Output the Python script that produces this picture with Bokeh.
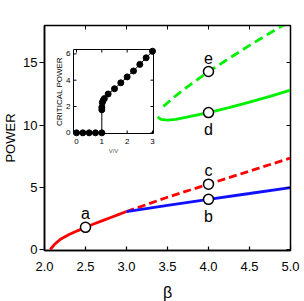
from math import pi
from bokeh.plotting import figure
from bokeh.models import Range1d, LinearAxis, FixedTicker, PrintfTickFormatter, ColumnDataSource
from bokeh.embed import file_html
from bokeh.resources import INLINE
from bokeh.core.properties import value

# ---------------- data ----------------
red_beta = [2.07, 2.12, 2.2, 2.3, 2.4, 2.5, 2.6, 2.7, 2.8, 2.9, 3.0]
red_power = [0.0, 0.4, 0.85, 1.2, 1.5, 1.78, 2.05, 2.3, 2.55, 2.8, 3.05]

red_dash_beta = [3.0, 3.5, 4.0, 4.5, 5.0]
red_dash_power = [3.05, 4.2, 5.25, 6.3, 7.35]

blue_beta = [3.0, 3.5, 4.0, 4.5, 5.0]
blue_power = [3.05, 3.55, 4.03, 4.5, 4.98]

green_beta = [3.38, 3.42, 3.5, 3.6, 3.75, 4.0, 4.25, 4.5, 4.75, 5.0]
green_power = [10.65, 10.45, 10.4, 10.45, 10.65, 11.0, 11.4, 11.85, 12.3, 12.8]

green_dash_beta = [3.45, 3.6, 3.8, 4.0, 4.25, 4.5, 4.75, 4.93]
green_dash_power = [11.5, 12.35, 13.35, 14.3, 15.35, 16.4, 17.4, 18.1]

point_names = ["a", "b", "c", "d", "e"]
point_beta = [2.5, 4.0, 4.0, 4.0, 4.0]
point_power = [1.78, 4.03, 5.25, 11.0, 14.3]
point_label_side = [-1, 1, -1, 1, -1]   # -1 above, +1 below

x_ticks = [2.0, 2.5, 3.0, 3.5, 4.0, 4.5, 5.0]
y_ticks = [0, 5, 10, 15]

# inset: critical power vs V/V
inset_v = [0, 0.25, 0.5, 0.75, 1.0, 1.0, 1.0, 1.02, 1.05, 1.1, 1.25, 1.5, 1.75, 2.0, 2.25, 2.5, 2.75, 3.0]
inset_p = [0, 0, 0, 0, 0, 1.75, 1.95, 2.3, 2.45, 2.6, 2.95, 3.35, 3.8, 4.25, 4.7, 5.2, 5.7, 6.2]
inset_x_ticks = [0, 1, 2, 3]
inset_y_ticks = [0, 2, 4, 6]

FONT = "Liberation Sans"

# ---------------- main figure ----------------
BL, BR, BT, BB = 37, 12, 25, 49
FW, FH = 246, 225
x0, x1 = 2.0, 5.0
y0, y1 = -0.08, 18.0

p = figure(frame_width=FW, frame_height=FH, output_backend="svg", toolbar_location=None,
           x_range=Range1d(x0, x1), y_range=Range1d(y0, y1),
           min_border_left=BL, min_border_right=BR, min_border_top=BT, min_border_bottom=BB)
p.background_fill_color = "white"
p.border_fill_color = "white"
p.grid.visible = False
p.outline_line_color = "black"
p.outline_line_width = 1.5

xa = p.xaxis[0]
xa.ticker = FixedTicker(ticks=x_ticks)
xa.formatter = PrintfTickFormatter(format="%.1f")
xa.axis_label = "β"
ya = p.yaxis[0]
ya.ticker = FixedTicker(ticks=y_ticks)
ya.axis_label = "POWER"
for ax in (xa, ya):
    ax.axis_line_color = "black"
    ax.axis_line_width = 1.5
    ax.major_tick_line_color = "black"
    ax.major_tick_line_width = 1.2
    ax.minor_tick_line_color = None
    ax.major_label_text_font = FONT
    ax.major_label_text_font_size = "13px"
    ax.major_label_text_color = "black"
    ax.axis_label_text_font = FONT
    ax.axis_label_text_font_style = "normal"
    ax.axis_label_text_color = "black"
xa.major_tick_in = 4
xa.major_tick_out = 0
xa.major_label_standoff = 11
xa.axis_label_text_font_size = "16px"
xa.axis_label_standoff = 10
ya.major_tick_in = 0
ya.major_tick_out = 5
ya.major_label_standoff = 2
ya.axis_label_text_font_size = "13px"
ya.axis_label_standoff = 2

top_ax = LinearAxis(ticker=FixedTicker(ticks=x_ticks), major_label_text_font_size="1px",
                    major_label_text_color=None,
                    major_tick_in=4, major_tick_out=0, minor_tick_line_color=None,
                    axis_line_color="black", major_tick_line_color="black",
                    major_label_standoff=0)
right_ax = LinearAxis(ticker=FixedTicker(ticks=y_ticks), major_label_text_font_size="1px",
                      major_label_text_color=None,
                      major_tick_in=4, major_tick_out=0, minor_tick_line_color=None,
                      axis_line_color="black", major_tick_line_color="black",
                      major_label_standoff=0)
p.add_layout(top_ax, "above")
p.add_layout(right_ax, "right")

# curves
p.line(red_beta, red_power, line_color="#ff0000", line_width=2.8)
p.line(red_dash_beta, red_dash_power, line_color="#ff0000", line_width=2.8, line_dash="8 4")
p.line(blue_beta, blue_power, line_color="#1010ff", line_width=2.8)
p.line(green_beta, green_power, line_color="#00f000", line_width=2.8)
p.line(green_dash_beta, green_dash_power, line_color="#00f000", line_width=2.8, line_dash="9 5")

# labelled points
pts = ColumnDataSource(dict(x=point_beta, y=point_power, name=point_names,
                            off=[s * (17 if s > 0 else 14) for s in point_label_side]))
p.scatter("x", "y", source=pts, marker="circle", size=10, fill_color="white",
          line_color="black", line_width=1.5)
p.text("x", "y", text="name", source=pts, y_offset="off", text_align="center",
       text_baseline="middle", text_font=value(FONT), text_font_size="16px", text_color="black")

# ---------------- inset ----------------
# inset box position in pixels relative to main frame (left, right, top, bottom)
IL, IR, IT, IB = 29, 109, 24, 108
ix0, ix1 = -0.118, 3.04
iy0, iy1 = -0.05, 6.33
xt = Range1d(x0 + IL / FW * (x1 - x0), x0 + IR / FW * (x1 - x0))
yt = Range1d(y1 - IB / FH * (y1 - y0), y1 - IT / FH * (y1 - y0))
sub = p.subplot(x_source=Range1d(ix0, ix1), y_source=Range1d(iy0, iy1), x_target=xt, y_target=yt)

sub.quad(left=[ix0], right=[ix1], bottom=[iy0], top=[iy1], fill_color="white",
         line_color="black", line_width=1)
dx_px = (ix1 - ix0) / (IR - IL)
dy_px = (iy1 - iy0) / (IB - IT)
sub.segment(x0=inset_x_ticks, y0=[iy0] * len(inset_x_ticks), x1=inset_x_ticks,
            y1=[iy0 + 3 * dy_px] * len(inset_x_ticks), line_color="black", line_width=1)
sub.segment(x0=inset_x_ticks, y0=[iy1] * len(inset_x_ticks), x1=inset_x_ticks,
            y1=[iy1 - 3 * dy_px] * len(inset_x_ticks), line_color="black", line_width=1)
sub.segment(x0=[ix0] * len(inset_y_ticks), y0=inset_y_ticks, x1=[ix0 + 3 * dx_px] * len(inset_y_ticks),
            y1=inset_y_ticks, line_color="black", line_width=1)
sub.segment(x0=[ix1] * len(inset_y_ticks), y0=inset_y_ticks, x1=[ix1 - 3 * dx_px] * len(inset_y_ticks),
            y1=inset_y_ticks, line_color="black", line_width=1)
sub.text(x=inset_x_ticks, y=[iy0] * len(inset_x_ticks), text=[str(t) for t in inset_x_ticks],
         y_offset=5, text_align="center", text_baseline="top", text_font=value(FONT),
         text_font_size="8px", text_color="black")
sub.text(x=[ix0] * len(inset_y_ticks), y=inset_y_ticks, text=[str(t) for t in inset_y_ticks],
         x_offset=-3, text_align="right", text_baseline="middle", text_font=value(FONT),
         text_font_size="8px", text_color="black")
sub.text(x=[ix0], y=[(iy0 + iy1) / 2], text=["CRITICAL POWER"], x_offset=-14, angle=pi / 2,
         text_align="center", text_baseline="middle", text_font=value(FONT),
         text_font_size="8px", text_color="black")
sub.text(x=[(ix0 + ix1) / 2], y=[iy0], text=["V/V"], y_offset=14, text_align="center",
         text_baseline="top", text_font=value(FONT), text_font_size="6px", text_color="#555555")

sub.line(inset_v, inset_p, line_color="black", line_width=1)
sub.scatter(inset_v, inset_p, marker="circle", size=6, fill_color="black", line_color="black")

open("out.html", "w").write(file_html(p, INLINE))
